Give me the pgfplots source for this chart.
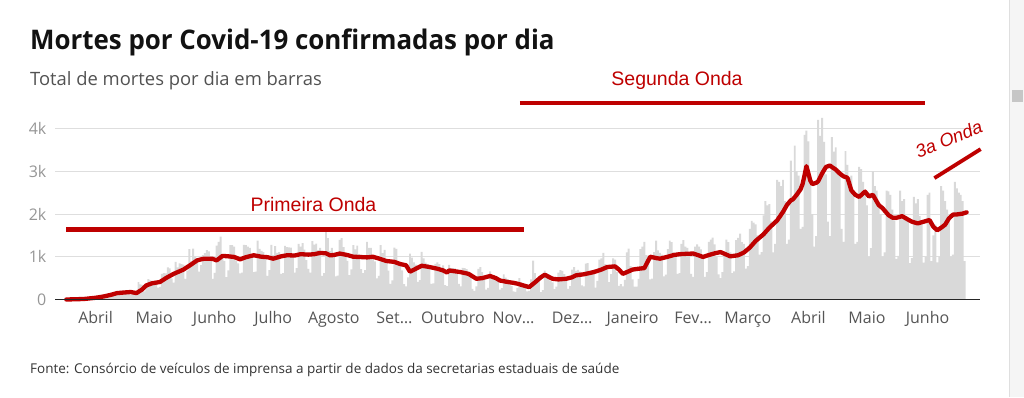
\documentclass[border=0pt]{standalone}
\usepackage{fontspec}
\setmainfont{Open Sans}
\newfontfamily\arialf{Liberation Sans}
\usepackage{pgfplots}
\pgfplotsset{compat=1.18}
\definecolor{redline}{RGB}{190,0,0}
\definecolor{bargray}{RGB}{217,217,217}
\definecolor{gridgray}{RGB}{222,222,222}
\definecolor{ylab}{RGB}{150,150,150}
\definecolor{xlab}{RGB}{85,85,85}
\begin{document}
\begin{tikzpicture}[x=1pt,y=1pt]
\useasboundingbox (0,0) rectangle (1024,397);
% scrollbar strip
\fill[gray!8] (1009,0) rectangle (1024,397);
\draw[gray!25, line width=0.6pt] (1009,0) -- (1009,397);
\fill[gray!45] (1012,295) rectangle (1023,307);
% titles
\node[anchor=base west, inner sep=0pt, text=black!93] at (30,347.5) {\fontsize{27}{30}\selectfont\bfseries\scalebox{0.959}[1]{Mortes por Covid-19 confirmadas por dia}};
\node[anchor=base west, inner sep=0pt, text=black!68] at (30,311) {\fontsize{18.4}{21}\selectfont Total de mortes por dia em barras};
\node[anchor=base west, inner sep=0pt, text=black!80] at (30,24) {\fontsize{13.5}{16}\selectfont Fonte: Consórcio de veículos de imprensa a partir de dados da secretarias estaduais de saúde};
\begin{axis}[
  at={(55pt,97.5pt)}, anchor=south west,
  width=925pt, height=183.8pt, scale only axis,
  xmin=10.24, xmax=483.87, ymin=0, ymax=4300,
  axis line style={draw=none},
  major tick length=0pt,
  ytick={0,1000,2000,3000,4000}, yticklabels={0,1k,2k,3k,4k},
  ymajorgrids, grid style={color=gridgray, line width=0.9pt},
  xtick={31,61,92,122,153,184,214,245,275,306,337,365,396,426,457},
  xticklabels={Abril,Maio,Junho,Julho,Agosto,Set…,Outubro,Nov…,Dez…,Janeiro,Fev…,Março,Abril,Maio,Junho},
  xticklabel style={anchor=base, yshift=-23.5pt, inner sep=0pt, font=\fontsize{16}{18}\selectfont, text=xlab},
  yticklabel style={anchor=east, xshift=-8.5pt, inner sep=0pt, font=\fontsize{16}{18}\selectfont, text=ylab},
  clip=false,
]
\addplot[ybar, bar width=1, bar shift=0pt, fill=bargray, draw=none] coordinates {
(16,1)(17,3)(18,3)(19,4)(20,7)(21,7)(22,9)(23,13)(24,14)(25,17)(26,20)(27,22)
(28,22)(29,23)(30,42)(31,40)(32,58)(33,60)(34,73)
(35,60)(36,80)(37,130)(38,150)(39,160)(40,140)(41,110)
(42,100)(43,110)(44,205)(45,205)(46,190)(47,215)(48,205)
(49,115)(50,165)(51,165)(52,155)(53,405)(54,355)(55,345)
(56,190)(57,340)(58,475)(59,450)(60,435)(61,430)(62,420)
(63,275)(64,295)(65,600)(66,615)(67,610)(68,750)(69,730)
(70,495)(71,395)(72,880)(73,750)(74,845)(75,825)(76,815)
(77,485)(78,675)(79,1180)(80,890)(81,1190)(82,1000)(83,965)
(84,655)(85,805)(86,1040)(87,1085)(88,1155)(89,1125)(90,955)
(91,480)(92,625)(93,1260)(94,1350)(95,1470)(96,1005)(97,905)
(98,525)(99,680)(100,1270)(101,1275)(102,1240)(103,910)(104,845)
(105,610)(106,630)(107,1280)(108,1270)(109,1240)(110,1205)(111,1020)
(112,640)(113,655)(114,1375)(115,1185)(116,1140)(117,1110)(118,990)
(119,550)(120,690)(121,1280)(122,1040)(123,1250)(124,1090)(125,1110)
(126,600)(127,620)(128,1255)(129,1225)(130,1220)(131,1215)(132,1070)
(133,630)(134,735)(135,1300)(136,1235)(137,1320)(138,1165)(139,920)
(140,715)(141,630)(142,1365)(143,1285)(144,1310)(145,1155)(146,1210)
(147,555)(148,615)(149,1595)(150,1435)(151,1130)(152,1210)(153,1090)
(154,540)(155,560)(156,1395)(157,1435)(158,1225)(159,1080)(160,905)
(161,570)(162,705)(163,1275)(164,1175)(165,1260)(166,1060)(167,710)
(168,620)(169,685)(170,1350)(171,1205)(172,1210)(173,1005)(174,890)
(175,495)(176,555)(177,1270)(178,1085)(179,1160)(180,855)(181,675)
(182,365)(183,445)(184,1215)(185,1185)(186,835)(187,875)(188,680)
(189,360)(190,310)(191,520)(192,1075)(193,980)(194,870)(195,815)
(196,415)(197,455)(198,1115)(199,965)(200,860)(201,830)(202,740)
(203,365)(204,375)(205,835)(206,870)(207,830)(208,730)(209,800)
(210,335)(211,315)(212,810)(213,735)(214,735)(215,730)(216,600)
(217,365)(218,310)(219,740)(220,735)(221,710)(222,560)(223,610)
(224,250)(225,200)(226,310)(227,715)(228,755)(229,640)(230,460)
(231,230)(232,270)(233,660)(234,495)(235,565)(236,495)(237,430)
(238,230)(239,265)(240,585)(241,510)(242,475)(243,425)(244,320)
(245,190)(246,180)(247,270)(248,500)(249,400)(250,305)(251,330)
(252,190)(253,200)(254,470)(255,910)(256,620)(257,480)(258,420)
(259,175)(260,220)(261,675)(262,620)(263,595)(264,435)(265,400)
(266,240)(267,300)(268,630)(269,690)(270,670)(271,595)(272,500)
(273,250)(274,315)(275,700)(276,755)(277,670)(278,695)(279,655)
(280,330)(281,310)(282,840)(283,850)(284,670)(285,685)(286,690)
(287,280)(288,435)(289,935)(290,965)(291,1090)(292,825)(293,735)
(294,405)(295,595)(296,965)(297,935)(298,640)(299,320)(300,360)
(301,310)(302,460)(303,1100)(304,1190)(305,780)(306,470)(307,300)
(308,300)(309,480)(310,1180)(311,1240)(312,1350)(313,1040)(314,960)
(315,470)(316,490)(317,1110)(318,1380)(319,1150)(320,1090)(321,1050)
(322,540)(323,580)(324,1180)(325,1380)(326,1340)(327,1100)(328,1060)
(329,600)(330,620)(331,1300)(332,1390)(333,1240)(334,1210)(335,1080)
(336,600)(337,530)(338,1240)(339,1290)(340,1240)(341,1170)(342,1050)
(343,530)(344,640)(345,1350)(346,1400)(347,1450)(348,1290)(349,1000)
(350,590)(351,500)(352,640)(353,1100)(354,1400)(355,1340)(356,1100)
(357,620)(358,660)(359,1390)(360,1440)(361,1540)(362,1340)(363,1300)
(364,720)(365,780)(366,1650)(367,1840)(368,1800)(369,1760)(370,1500)
(371,1050)(372,1110)(373,1970)(374,2300)(375,2200)(376,2230)(377,1830)
(378,1100)(379,1300)(380,2800)(381,2750)(382,2650)(383,2800)(384,2300)
(385,1300)(386,1400)(387,3250)(388,2300)(389,3600)(390,3000)(391,2900)
(392,1650)(393,1700)(394,3850)(395,3950)(396,3700)(397,2700)(398,2000)
(399,1240)(400,1480)(401,4200)(402,3830)(403,4250)(404,3690)(405,2930)
(406,1820)(407,1480)(408,3800)(409,3460)(410,3560)(411,3070)(412,2930)
(413,1650)(414,1350)(415,3470)(416,3150)(417,2850)(418,2900)(419,2500)
(420,1300)(421,1350)(422,3100)(423,3050)(424,2750)(425,2500)(426,2200)
(427,1000)(428,1200)(429,3000)(430,2650)(431,2550)(432,2200)(433,2000)
(434,1000)(435,1100)(436,2550)(437,2530)(438,2450)(439,2100)(440,1850)
(441,950)(442,1020)(443,2550)(444,2300)(445,2350)(446,1950)(447,1900)
(448,850)(449,970)(450,2400)(451,2250)(452,2350)(453,1950)(454,1800)
(455,860)(456,1000)(457,2450)(458,2500)(459,900)(460,1500)(461,1750)
(462,870)(463,1000)(464,2650)(465,2550)(466,2300)(467,2100)(468,1900)
(469,1000)(470,1050)(471,2750)(472,2600)(473,2500)(474,2450)(475,2300)
(476,900)
};
\addplot[redline, line width=4.3pt, line join=round, line cap=round] coordinates {
(16,0)(20,5)(25,12)(31,40)(35,70)(39,110)(42,150)(46,165)(49,175)(52,150)
(55,240)(57,330)(60,380)(64,410)(67,500)(71,600)(76,700)(80,820)(83,915)
(86,950)(88,955)(91,950)(93,915)(96,1020)(99,1010)(102,995)(105,940)
(108,990)(112,1035)(116,1000)(119,990)(122,955)(126,1010)(129,1035)
(133,1030)(136,1060)(140,1050)(143,1060)(146,1090)(149,1080)(151,1035)
(153,1040)(156,1075)(160,1040)(163,1000)(166,995)(170,985)(173,1000)
(176,960)(180,900)(184,880)(187,830)(190,800)(192,650)(195,720)(198,790)
(202,760)(206,720)(209,680)(211,630)(212,680)(215,660)(218,640)(222,600)
(226,485)(229,500)(233,550)(236,500)(238,445)(242,410)(245,390)(247,370)
(250,330)(253,290)(256,400)(259,520)(261,580)(263,530)(265,485)(268,470)
(272,485)(275,520)(277,565)(281,590)(286,640)(290,700)(293,760)(297,775)
(299,700)(301,600)(304,660)(306,700)(309,720)(312,735)(315,1000)(318,970)
(320,955)(324,1000)(327,1040)(330,1060)(334,1070)(337,1075)(340,1030)
(342,995)(345,1040)(348,1080)(351,1110)(354,1050)(356,1010)(360,1035)
(363,1100)(366,1215)(369,1370)(373,1525)(376,1680)(380,1850)(383,2050)
(385,2210)(387,2320)(388,2340)(390,2450)(392,2580)(393,2700)(394,2900)
(395,3120)(396,2950)(397,2780)(398,2700)(400,2730)(401,2765)(403,2950)
(405,3100)(407,3135)(408,3100)(410,3040)(412,2950)(414,2880)(416,2850)
(418,2550)(420,2450)(422,2400)(425,2525)(427,2410)(429,2450)(432,2210)
(434,2135)(437,1975)(439,1915)(441,1910)(444,1950)(447,1870)(449,1820)
(452,1780)(455,1820)(458,1860)(460,1700)(462,1620)(464,1680)(466,1750)
(468,1900)(470,1985)(472,1990)(475,2010)(477,2040)
};
% baseline
\draw[black!85, line width=1.4pt] (rel axis cs:0,0) -- (rel axis cs:1,0);
% annotations
\draw[redline, line width=4.3pt] (axis cs:15.9,1637) -- (axis cs:250.4,1637);
\draw[redline, line width=4.3pt] (axis cs:248.3,4596) -- (axis cs:455.7,4596);
\draw[redline, line width=3.8pt] (axis cs:460.5,2840) -- (axis cs:484.2,3518);
\end{axis}
\node[anchor=base, inner sep=0pt, text=redline] at (313.5,185.3) {\arialf\fontsize{19.5}{22}\selectfont Primeira Onda};
\node[anchor=base, inner sep=0pt, text=redline] at (677,311) {\arialf\fontsize{19.5}{22}\selectfont Segunda Onda};
\node[anchor=base west, inner sep=0pt, text=redline, rotate=22] at (918.5,238.7) {\arialf\itshape\fontsize{18.3}{20}\selectfont 3a Onda};
\end{tikzpicture}
\end{document}
